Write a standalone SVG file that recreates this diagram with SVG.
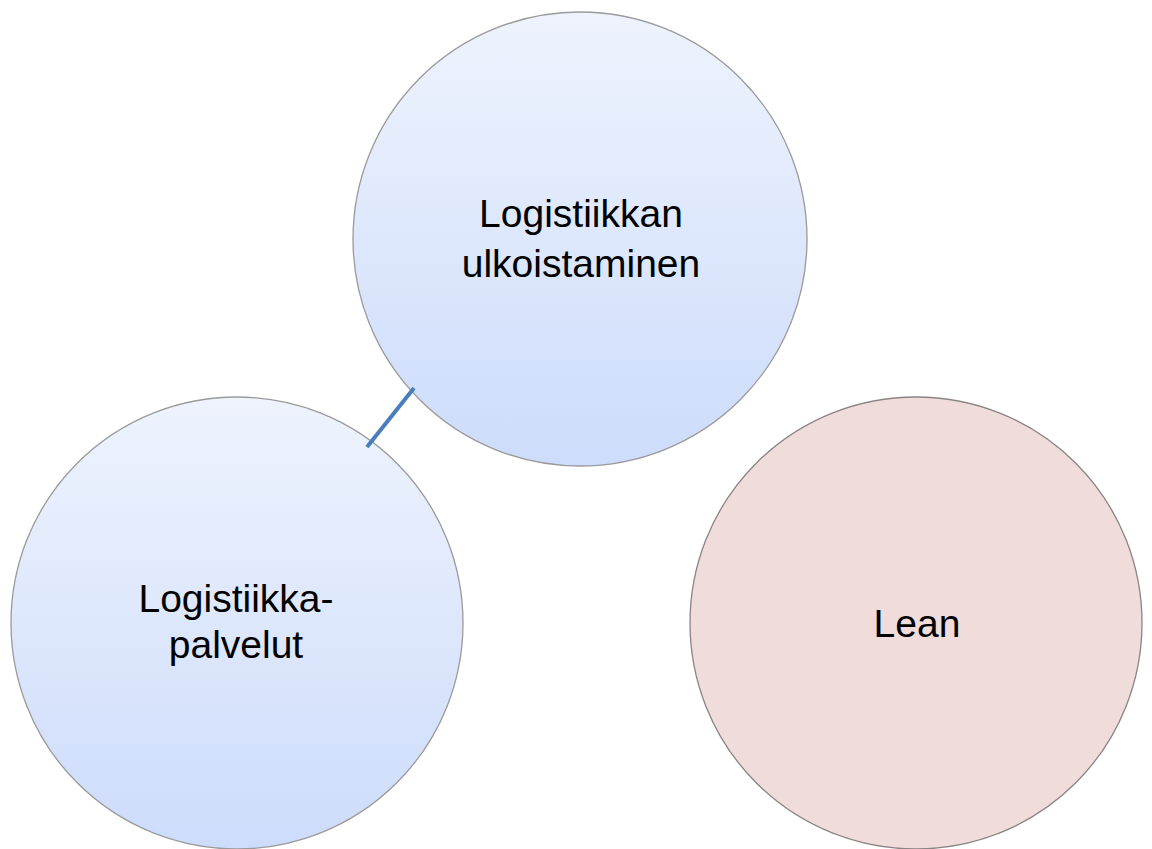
<svg xmlns="http://www.w3.org/2000/svg" width="1152" height="849" viewBox="0 0 1152 849">
<defs>
<linearGradient id="blue" x1="0" y1="0" x2="0" y2="1">
<stop offset="0" stop-color="#eef3fd"/>
<stop offset="1" stop-color="#cddcfb"/>
</linearGradient>
<style>
.c{stroke:#9a9a9a;stroke-width:1.3}
.b{fill:url(#blue)}
.p{fill:#f0dcdb;stroke:#8a8484}
.t{font-family:"Liberation Sans",Arial,sans-serif;font-size:39px;fill:#000;text-anchor:middle}
.e{stroke:#4a7ebb;stroke-width:4;fill:none}
</style>
</defs>
<rect width="1152" height="849" fill="#fff"/>
<g id="top">
<circle class="c b" cx="580" cy="239" r="227"/>
<text class="t" x="581" y="227">Logistiikkan</text>
<text class="t" x="581" y="277">ulkoistaminen</text>
</g>
<g id="left">
<circle class="c b" cx="237" cy="623" r="226"/>
<text class="t" x="236" y="612">Logistiikka-</text>
<text class="t" x="236" y="658">palvelut</text>
</g>
<g id="right">
<circle class="c p" cx="916" cy="623" r="226"/>
<text class="t" x="917" y="637">Lean</text>
</g>
<g id="connectors">
<line class="e" x1="414" y1="388" x2="367" y2="447"/>
</g>
</svg>
